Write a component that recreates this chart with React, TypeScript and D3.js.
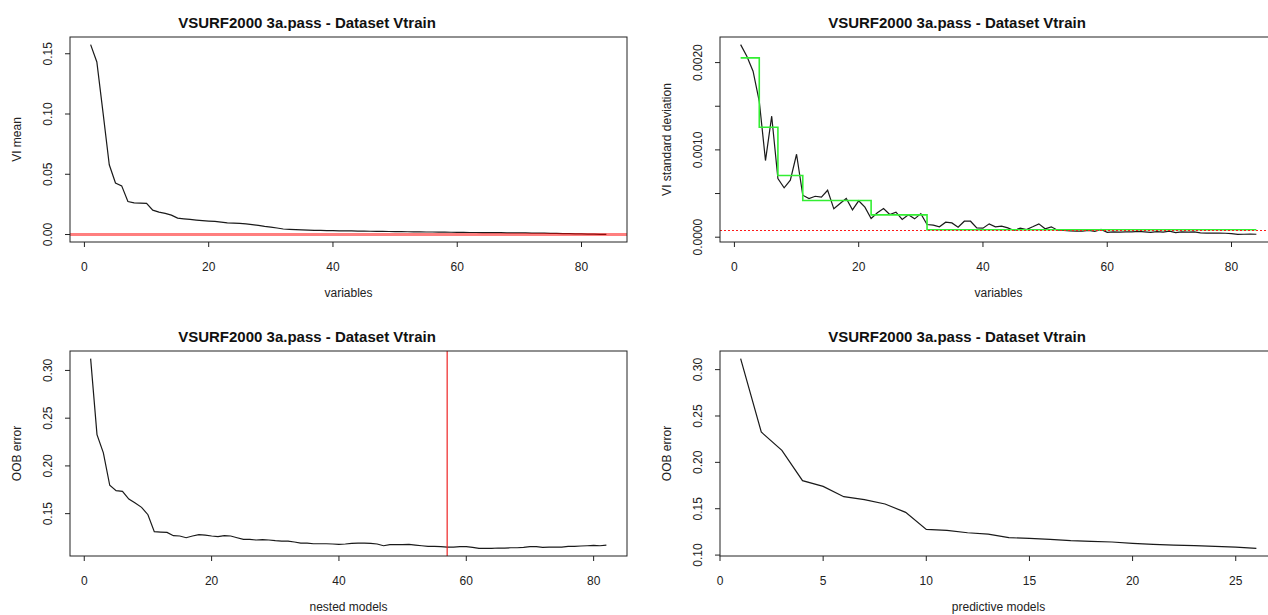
import React from "react";
import * as d3 from "d3";

const TITLE = "VSURF2000 3a.pass - Dataset Vtrain";

// Panel 1: VI mean (sorted)
const viMean = [
  0.1576, 0.1432, 0.101, 0.0579, 0.0427, 0.0404, 0.0274, 0.0263, 0.0261, 0.0258,
  0.0202, 0.0186, 0.0175, 0.0161, 0.0136, 0.013, 0.0125, 0.012, 0.0116, 0.0112,
  0.0109, 0.0103, 0.0097, 0.0094, 0.0092, 0.0089, 0.0082, 0.0076, 0.0068, 0.0062,
  0.0054, 0.0046, 0.0043, 0.0041, 0.0039, 0.0037, 0.0035, 0.0034, 0.0033, 0.0032,
  0.0031, 0.003, 0.003, 0.0029, 0.0028, 0.0027, 0.0026, 0.0026, 0.0025, 0.0024,
  0.0024, 0.0023, 0.0022, 0.0022, 0.0021, 0.0021, 0.002, 0.002, 0.0019, 0.0018,
  0.0018, 0.0017, 0.0017, 0.0016, 0.0016, 0.0015, 0.0015, 0.0014, 0.0014, 0.0013,
  0.0013, 0.0012, 0.0012, 0.0011, 0.001, 0.0009, 0.0008, 0.0007, 0.0006, 0.0005,
  0.0004, 0.0003, 0.0002, 0.0001,
];

// Panel 2: VI standard deviation
const viSd = [
  0.002206, 0.002073, 0.001901, 0.001557, 0.000878, 0.001386, 0.000672, 0.000566, 0.000653, 0.00095,
  0.000481, 0.000443, 0.000469, 0.000458, 0.000538, 0.000325, 0.000386, 0.000443, 0.000314, 0.000417,
  0.000344, 0.000214, 0.000279, 0.000329, 0.00026, 0.000286, 0.000203, 0.000256, 0.00021, 0.00027,
  0.000145, 0.000138, 0.000119, 0.000172, 0.000164, 0.000115, 0.000183, 0.000183, 0.000107, 0.000103,
  0.000153, 0.000119, 0.000126, 0.000107, 0.000077, 0.000103, 0.000088, 0.000119, 0.000153, 0.000096,
  0.000119, 0.00008, 0.000077, 0.000073, 0.000069, 0.000069, 0.000077, 0.000066, 0.00009, 0.000055,
  0.00006, 0.000058, 0.000062, 0.00006, 0.000066, 0.00006, 0.000055, 0.000064, 0.000058, 0.00007,
  0.000052, 0.000062, 0.000058, 0.00006, 0.00005, 0.000046, 0.000046, 0.000047, 0.000045, 0.00004,
  0.000032, 0.000034, 0.000035, 0.000034,
];
const predStarts = [1, 4, 7, 11, 22, 31];
const predLevels = [0.002054, 0.00126, 0.000706, 0.00042, 0.000256, 0.0000847];
const minThres = 0.000086;

// Panel 3: OOB error of nested models
const errInterp = [
  0.3124, 0.2328, 0.2136, 0.1797, 0.1741, 0.1734, 0.1653, 0.1611, 0.1566, 0.1489,
  0.1311, 0.1307, 0.1304, 0.1269, 0.1266, 0.1248, 0.1266, 0.128, 0.1276, 0.1266,
  0.1259, 0.1269, 0.1266, 0.1248, 0.1231, 0.1231, 0.1224, 0.1227, 0.1224, 0.1217,
  0.1213, 0.1213, 0.1203, 0.1192, 0.1192, 0.1185, 0.1185, 0.1185, 0.1182, 0.1178,
  0.1182, 0.1189, 0.1192, 0.1192, 0.1189, 0.1182, 0.1164, 0.1175, 0.1175, 0.1175,
  0.1178, 0.1171, 0.1164, 0.1157, 0.1157, 0.1154, 0.115, 0.115, 0.1154, 0.1154,
  0.1147, 0.1136, 0.1136, 0.1136, 0.114, 0.114, 0.1143, 0.1143, 0.1147, 0.1154,
  0.1154, 0.1147, 0.115, 0.115, 0.115, 0.1157, 0.1157, 0.1161, 0.1164, 0.1168,
  0.1164, 0.1171,
];
const nvarInterp = 57;

// Panel 4: OOB error of predictive models
const errPred = [
  0.3119, 0.2327, 0.2129, 0.1803, 0.1741, 0.163, 0.1598, 0.1551, 0.1461, 0.1277,
  0.1266, 0.1241, 0.1227, 0.1188, 0.118, 0.1169, 0.1155, 0.1148, 0.1141, 0.1126,
  0.1115, 0.1108, 0.1101, 0.1094, 0.1086, 0.1072,
];

const xTicksLong = [0, 20, 40, 60, 80];
const xTicksShort = [0, 5, 10, 15, 20, 25];
const yTicksMean = [0, 0.05, 0.1, 0.15];
const yTicksSd = [0, 0.0005, 0.001, 0.0015, 0.002];
const yLabelsSd = [0, 0.001, 0.002];
const yTicksInterp = [0.15, 0.2, 0.25, 0.3];
const yTicksPred = [0.1, 0.15, 0.2, 0.25, 0.3];

const FONT = "'Liberation Sans', Arial, Helvetica, sans-serif";
const PW = 557;
const PH = 205;
const INK = "#222";

function rRange(lo: number, hi: number): [number, number] {
  const r = hi - lo;
  return [lo - 0.04 * r, hi + 0.04 * r];
}

type PanelProps = {
  left: number;
  top: number;
  titleX: number;
  xDomain: [number, number];
  yDomain: [number, number];
  xTicks: number[];
  yTicks: number[];
  yLabels: number[];
  yFmt: (v: number) => string;
  xLabel: string;
  yLabel: string;
  children: (x: d3.ScaleLinear<number, number>, y: d3.ScaleLinear<number, number>) => React.ReactNode;
};

function Panel(p: PanelProps) {
  const x = d3.scaleLinear().domain(p.xDomain).range([p.left, p.left + PW]);
  const y = d3.scaleLinear().domain(p.yDomain).range([p.top + PH, p.top]);
  const bottom = p.top + PH;
  return (
    <g>
      <text x={p.titleX} y={p.top - 9} textAnchor="middle" fontFamily={FONT} fontSize={15} fontWeight="bold" fill="#111">
        {TITLE}
      </text>
      {p.children(x, y)}
      <rect x={p.left} y={p.top} width={PW} height={PH} fill="none" stroke={INK} strokeWidth={1} />
      {p.xTicks.map((t) => (
        <g key={"xt" + t}>
          <line x1={x(t)} x2={x(t)} y1={bottom} y2={bottom + 5} stroke={INK} strokeWidth={1} />
          <text x={x(t)} y={bottom + 28.5} textAnchor="middle" fontFamily={FONT} fontSize={12} fill={INK}>
            {String(t)}
          </text>
        </g>
      ))}
      {p.yTicks.map((t) => (
        <line key={"yt" + t} x1={p.left - 5} x2={p.left} y1={y(t)} y2={y(t)} stroke={INK} strokeWidth={1} />
      ))}
      {p.yLabels.map((t) => (
        <text
          key={"yl" + t}
          transform={`translate(${p.left - 18},${y(t)}) rotate(-90)`}
          textAnchor="middle"
          fontFamily={FONT}
          fontSize={12}
          fill={INK}
        >
          {p.yFmt(t)}
        </text>
      ))}
      <text x={p.left + PW / 2} y={bottom + 55} textAnchor="middle" fontFamily={FONT} fontSize={12} fill={INK}>
        {p.xLabel}
      </text>
      <text
        transform={`translate(${p.left - 49},${p.top + PH / 2}) rotate(-90)`}
        textAnchor="middle"
        fontFamily={FONT}
        fontSize={12}
        fill={INK}
      >
        {p.yLabel}
      </text>
    </g>
  );
}

export default function App() {
  const idx = (a: number[]) => a.map((v, i) => [i + 1, v] as [number, number]);
  const meanPts = idx(viMean);
  const sdPts = idx(viSd);
  const interpPts = idx(errInterp);
  const predErrPts = idx(errPred);
  const predPts: [number, number][] = viSd.map((_, i) => {
    const k = i + 1;
    let lvl = predLevels[0];
    predStarts.forEach((s, j) => {
      if (k >= s) lvl = predLevels[j];
    });
    return [k, lvl];
  });

  const allSd = viSd.concat(predLevels);
  const mkLine = (x: d3.ScaleLinear<number, number>, y: d3.ScaleLinear<number, number>, curve?: d3.CurveFactory) => {
    const l = d3
      .line<[number, number]>()
      .x((d) => x(d[0]))
      .y((d) => y(d[1]));
    if (curve) l.curve(curve);
    return l;
  };

  return (
    <svg width={1268} height={615} style={{ position: "absolute", left: 0, top: 0, background: "#fff" }}>
      <rect x={0} y={0} width={1268} height={615} fill="#fff" />
      <Panel
        left={70}
        top={37}
        titleX={307}
        xDomain={rRange(1, viMean.length)}
        yDomain={rRange(d3.min(viMean)!, d3.max(viMean)!)}
        xTicks={xTicksLong}
        yTicks={yTicksMean}
        yLabels={yTicksMean}
        yFmt={(v) => v.toFixed(2)}
        xLabel="variables"
        yLabel="VI mean"
      >
        {(x, y) => (
          <g>
            <path d={mkLine(x, y)(meanPts)!} fill="none" stroke="#1a1a1a" strokeWidth={1.2} />
            <line x1={70} x2={70 + PW} y1={y(0)} y2={y(0)} stroke="#ff0000" strokeOpacity={0.5} strokeWidth={3} />
          </g>
        )}
      </Panel>
      <Panel
        left={720}
        top={37}
        titleX={957}
        xDomain={rRange(1, viSd.length)}
        yDomain={rRange(d3.min(allSd)!, d3.max(allSd)!)}
        xTicks={xTicksLong}
        yTicks={yTicksSd}
        yLabels={yLabelsSd}
        yFmt={(v) => v.toFixed(4)}
        xLabel="variables"
        yLabel="VI standard deviation"
      >
        {(x, y) => (
          <g>
            <path d={mkLine(x, y)(sdPts)!} fill="none" stroke="#1a1a1a" strokeWidth={1.2} />
            <path d={mkLine(x, y, d3.curveStepAfter)(predPts)!} fill="none" stroke="#33ee33" strokeWidth={1.6} />
            <line
              x1={720}
              x2={720 + PW}
              y1={Math.round(y(minThres)) + 0.5}
              y2={Math.round(y(minThres)) + 0.5}
              stroke="#ff1a1a"
              strokeWidth={1.2}
              strokeDasharray="2,2"
            />
          </g>
        )}
      </Panel>
      <Panel
        left={70}
        top={351}
        titleX={307}
        xDomain={rRange(1, errInterp.length)}
        yDomain={rRange(d3.min(errInterp)!, d3.max(errInterp)!)}
        xTicks={xTicksLong}
        yTicks={yTicksInterp}
        yLabels={yTicksInterp}
        yFmt={(v) => v.toFixed(2)}
        xLabel="nested models"
        yLabel="OOB error"
      >
        {(x, y) => (
          <g>
            <path d={mkLine(x, y)(interpPts)!} fill="none" stroke="#1a1a1a" strokeWidth={1.2} />
            <line x1={x(nvarInterp)} x2={x(nvarInterp)} y1={351} y2={351 + PH} stroke="#ee2222" strokeOpacity={0.85} strokeWidth={1.4} />
          </g>
        )}
      </Panel>
      <Panel
        left={720}
        top={351}
        titleX={957}
        xDomain={rRange(1, errPred.length)}
        yDomain={rRange(d3.min(errPred)!, d3.max(errPred)!)}
        xTicks={xTicksShort}
        yTicks={yTicksPred}
        yLabels={yTicksPred}
        yFmt={(v) => v.toFixed(2)}
        xLabel="predictive models"
        yLabel="OOB error"
      >
        {(x, y) => <path d={mkLine(x, y)(predErrPts)!} fill="none" stroke="#1a1a1a" strokeWidth={1.2} />}
      </Panel>
    </svg>
  );
}
